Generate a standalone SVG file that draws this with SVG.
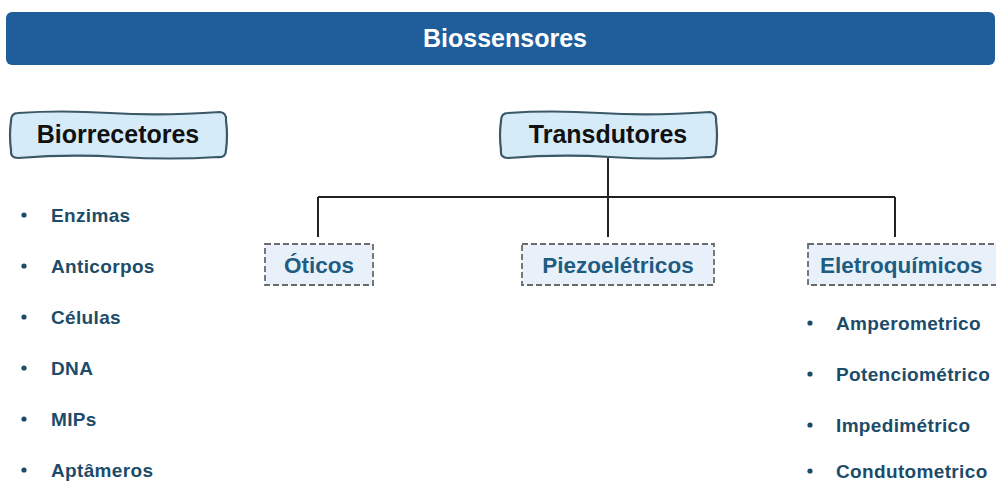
<svg xmlns="http://www.w3.org/2000/svg" width="996" height="483" viewBox="0 0 996 483">
<style>
.title{font-family:"Liberation Sans",Arial,sans-serif;font-weight:bold;font-size:25px;fill:#ffffff}
.wavy{fill:#d6ebf8;stroke:#3b5868;stroke-width:2.2}
.head{font-family:"Liberation Sans",Arial,sans-serif;font-weight:bold;font-size:25px;fill:#111111}
.dash{fill:#e8f1fa;stroke:#6b6b6b;stroke-width:1.8;stroke-dasharray:6 3}
.sub{font-family:"Liberation Sans",Arial,sans-serif;font-weight:bold;font-size:22.5px;fill:#1e5c82}
.item{font-family:"Liberation Sans",Arial,sans-serif;font-weight:bold;font-size:19px;letter-spacing:0.35px;fill:#1c4c69}
.bul{fill:#1c4c69}
.conn{fill:none;stroke:#222222;stroke-width:2}
</style>
<defs>
<path id="wv" d="M18,113 Q60,110 110,113 T220,112 Q227,113 226,121 Q228,135 226,150 Q226,158 218,157 Q170,160 120,157 T18,158 Q10,158 11,150 Q9,135 11,121 Q11,113 18,113 Z"/>
</defs>
<g id="title">
<rect x="6" y="12" width="989" height="53" rx="6" fill="#1f5e9a"/>
<text class="title" x="505" y="47" text-anchor="middle">Biossensores</text>
</g>
<g id="connectors">
<path class="conn" d="M608,158 V237 M318,197 H895 M318,197 V237 M895,197 V237"/>
</g>
<g id="biorrecetores">
<use href="#wv" class="wavy"/>
<text class="head" x="118" y="143" text-anchor="middle">Biorrecetores</text>
</g>
<g id="transdutores">
<use href="#wv" class="wavy" transform="translate(490,0)"/>
<text class="head" x="608" y="143" text-anchor="middle">Transdutores</text>
</g>
<g id="oticos">
<rect class="dash" x="265" y="244" width="108" height="41"/>
<text class="sub" x="319" y="273" text-anchor="middle">Óticos</text>
</g>
<g id="piezoeletricos">
<rect class="dash" x="522" y="244" width="192" height="41"/>
<text class="sub" x="618" y="273" text-anchor="middle">Piezoelétricos</text>
</g>
<g id="eletroquimicos">
<rect class="dash" x="808" y="244" width="200" height="41"/>
<text class="sub" x="820" y="273">Eletroquímicos</text>
</g>
<g id="biorrecetores-list">
<circle class="bul" cx="24" cy="215" r="2.6"/><text class="item" x="51" y="222">Enzimas</text>
<circle class="bul" cx="24" cy="266" r="2.6"/><text class="item" x="51" y="273">Anticorpos</text>
<circle class="bul" cx="24" cy="317" r="2.6"/><text class="item" x="51" y="324">Células</text>
<circle class="bul" cx="24" cy="368" r="2.6"/><text class="item" x="51" y="375">DNA</text>
<circle class="bul" cx="24" cy="419" r="2.6"/><text class="item" x="51" y="426">MIPs</text>
<circle class="bul" cx="24" cy="470" r="2.6"/><text class="item" x="51" y="477">Aptâmeros</text>
</g>
<g id="eletroquimicos-list">
<circle class="bul" cx="810" cy="323" r="2.6"/><text class="item" x="836" y="330">Amperometrico</text>
<circle class="bul" cx="810" cy="374" r="2.6"/><text class="item" x="836" y="381">Potenciométrico</text>
<circle class="bul" cx="810" cy="425" r="2.6"/><text class="item" x="836" y="432">Impedimétrico</text>
<circle class="bul" cx="810" cy="471" r="2.6"/><text class="item" x="836" y="478">Condutometrico</text>
</g>
</svg>
